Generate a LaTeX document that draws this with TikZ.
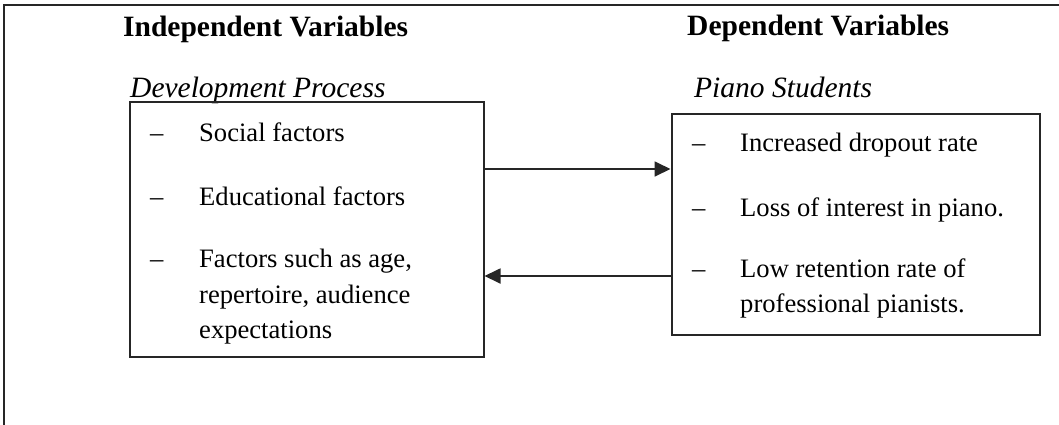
\documentclass[tikz,border=0pt]{standalone}
\usepackage{fontspec}
\setmainfont{Liberation Serif}
\usetikzlibrary{arrows.meta}
\begin{document}
\begin{tikzpicture}[x=1pt,y=-1pt,
  frameline/.style={line width=1.8pt,draw=black!85},
  boxstyle/.style={draw=black!85,line width=2pt,inner sep=0pt,anchor=north west},
  head/.style={inner sep=0pt,anchor=base west,font=\fontsize{29.5}{34}\selectfont\bfseries},
  subhead/.style={inner sep=0pt,anchor=base west,font=\fontsize{29.5}{34}\selectfont\itshape},
  body/.style={inner sep=0pt,anchor=base west,font=\fontsize{26.6}{32}\selectfont},
  arr/.style={line width=1.8pt,draw=black!85,-{Triangle[length=16pt,width=15pt]}}]
\useasboundingbox (0,0) rectangle (1059,424);
% outer frame (only top and left edges visible)
\coordinate (fc) at (4,5);
\coordinate (fr) at (1062,5);
\coordinate (fb) at (4,428);
\draw[frameline] (fr) -- (fc) -- (fb);
% headings
\node[head] (indep) at (123,36.5) {Independent Variables};
\node[head] (dep) at (687,35) {Dependent Variables};
\node[subhead] (devp) at (130,97) {Development Process};
\node[subhead] (piano) at (694,97) {Piano Students};
% boxes
\node[boxstyle,minimum width=354pt,minimum height=255pt] (lbox) at (128.5,101) {};
\node[boxstyle,minimum width=368pt,minimum height=221pt] (rbox) at (670.5,113) {};
% left box items
\node[body] (ld1) at (150,141) {–};
\node[body] (lt1) at (199,141) {Social factors};
\node[body] (ld2) at (150,205) {–};
\node[body] (lt2) at (199,205) {Educational factors};
\node[body] (ld3) at (150,267) {–};
\node[body] (lt3a) at (199,267) {Factors such as age,};
\node[body] (lt3b) at (199,303) {repertoire, audience};
\node[body] (lt3c) at (199,338) {expectations};
% right box items
\node[body] (rd1) at (692,151) {–};
\node[body] (rt1) at (740,151) {Increased dropout rate};
\node[body] (rd2) at (692,216) {–};
\node[body] (rt2) at (740,216) {Loss of interest in piano.};
\node[body] (rd3) at (692,277) {–};
\node[body] (rt3a) at (740,277) {Low retention rate of};
\node[body] (rt3b) at (740,312) {professional pianists.};
% arrows
\coordinate (ya) at (0,169);
\coordinate (yb) at (0,276);
\draw[arr] (ya -| lbox.east) -- (ya -| rbox.west);
\draw[arr] (yb -| rbox.west) -- (yb -| lbox.east);
\end{tikzpicture}
\end{document}
